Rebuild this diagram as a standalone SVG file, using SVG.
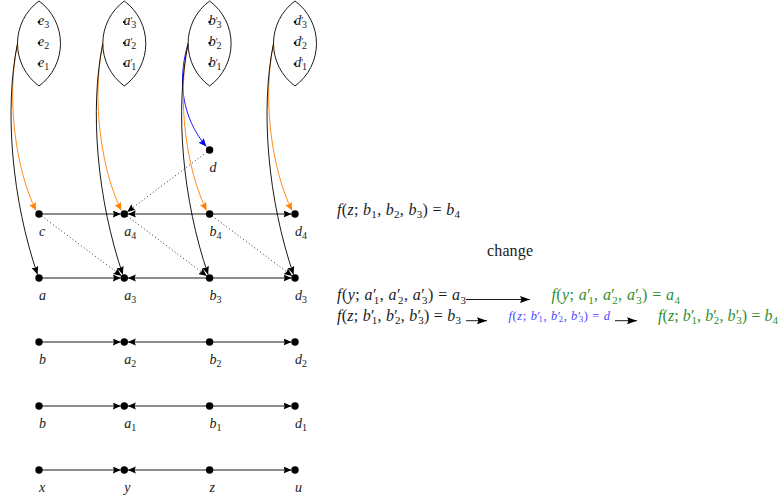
<svg xmlns="http://www.w3.org/2000/svg" width="782" height="498" viewBox="0 0 782 498">
<style>
.lens{fill:none;stroke:#000;stroke-width:0.9}
.dot{fill:#000}
.sd{fill:#000}
.e{stroke:#000;stroke-width:0.9;fill:none}
.dt{stroke:#000;stroke-width:0.9;fill:none;stroke-dasharray:0.9 2.6}
.co{stroke:#ff8000;stroke-width:0.9;fill:none}
.cb{stroke:#0000ff;stroke-width:0.9;fill:none}
.ck{stroke:#000;stroke-width:0.9;fill:none}
.lb{font-family:'Liberation Serif','Times New Roman',serif;font-size:14px;font-style:italic;fill:#1a1a1a}
.ls{font-size:10px;font-style:normal}
.f{font-family:'Liberation Serif','Times New Roman',serif;font-size:16px;fill:#1a1a1a}
.i{font-style:italic}
.s{font-size:11px}
.g{fill:#2f8f2f}
.bl{fill:#4646ff;font-size:12.5px}
.bl .s{font-size:8.5px}
</style>
<defs>
<marker id="ah" markerUnits="userSpaceOnUse" markerWidth="10" markerHeight="8" refX="8" refY="3.5" orient="auto"><path d="M0,0 L8,3.5 L0,7 L1.2,3.5 Z" fill="#000"/></marker>
<marker id="aho" markerUnits="userSpaceOnUse" markerWidth="10" markerHeight="8" refX="8" refY="3.5" orient="auto"><path d="M0,0 L8,3.5 L0,7 L1.2,3.5 Z" fill="#ff8000"/></marker>
<marker id="ahb" markerUnits="userSpaceOnUse" markerWidth="10" markerHeight="8" refX="8" refY="3.5" orient="auto"><path d="M0,0 L8,3.5 L0,7 L1.2,3.5 Z" fill="#0000ff"/></marker>
<marker id="ahr" markerUnits="userSpaceOnUse" markerWidth="12" markerHeight="8" refX="10" refY="3.5" orient="auto"><path d="M0,0 L10,3.5 L0,7 L1.5,3.5 Z" fill="#000"/></marker>
</defs>

<!-- lenses -->
<g id="lens-e">
<path class="lens" d="M39,1 A52.76,52.76 0 0 0 39,86 A52.76,52.76 0 0 0 39,1 Z"/>
<circle class="sd" cx="39" cy="22" r="1.3"/><circle class="sd" cx="39" cy="43" r="1.3"/><circle class="sd" cx="39" cy="64" r="1.3"/>
<text class="lb" x="38" y="25">e<tspan class="ls" dy="3">3</tspan></text>
<text class="lb" x="38" y="46">e<tspan class="ls" dy="3">2</tspan></text>
<text class="lb" x="38" y="67">e<tspan class="ls" dy="3">1</tspan></text>
</g>
<g id="lens-a">
<path class="lens" d="M124.3,1 A52.76,52.76 0 0 0 124.3,86 A52.76,52.76 0 0 0 124.3,1 Z"/>
<circle class="sd" cx="124.3" cy="22" r="1.3"/><circle class="sd" cx="124.3" cy="43" r="1.3"/><circle class="sd" cx="124.3" cy="64" r="1.3"/>
<text class="lb" x="123.5" y="25">a<tspan class="ls" dy="-1">′</tspan><tspan class="ls" dx="-1.5" dy="4">3</tspan></text>
<text class="lb" x="123.5" y="46">a<tspan class="ls" dy="-1">′</tspan><tspan class="ls" dx="-1.5" dy="4">2</tspan></text>
<text class="lb" x="123.5" y="67">a<tspan class="ls" dy="-1">′</tspan><tspan class="ls" dx="-1.5" dy="4">1</tspan></text>
</g>
<g id="lens-b">
<path class="lens" d="M209.6,1 A52.76,52.76 0 0 0 209.6,86 A52.76,52.76 0 0 0 209.6,1 Z"/>
<circle class="sd" cx="209.6" cy="22" r="1.3"/><circle class="sd" cx="209.6" cy="43" r="1.3"/><circle class="sd" cx="209.6" cy="64" r="1.3"/>
<text class="lb" x="208.8" y="25">b<tspan class="ls" dy="-1">′</tspan><tspan class="ls" dx="-1.5" dy="4">3</tspan></text>
<text class="lb" x="208.8" y="46">b<tspan class="ls" dy="-1">′</tspan><tspan class="ls" dx="-1.5" dy="4">2</tspan></text>
<text class="lb" x="208.8" y="67">b<tspan class="ls" dy="-1">′</tspan><tspan class="ls" dx="-1.5" dy="4">1</tspan></text>
</g>
<g id="lens-d">
<path class="lens" d="M295,1 A52.76,52.76 0 0 0 295,86 A52.76,52.76 0 0 0 295,1 Z"/>
<circle class="sd" cx="295" cy="22" r="1.3"/><circle class="sd" cx="295" cy="43" r="1.3"/><circle class="sd" cx="295" cy="64" r="1.3"/>
<text class="lb" x="294.2" y="25">d<tspan class="ls" dy="-1">′</tspan><tspan class="ls" dx="-1.5" dy="4">3</tspan></text>
<text class="lb" x="294.2" y="46">d<tspan class="ls" dy="-1">′</tspan><tspan class="ls" dx="-1.5" dy="4">2</tspan></text>
<text class="lb" x="294.2" y="67">d<tspan class="ls" dy="-1">′</tspan><tspan class="ls" dx="-1.5" dy="4">1</tspan></text>
</g>

<!-- connectors -->
<g id="connectors">
<path class="co" marker-end="url(#aho)" d="M17.5,43.5 C6,100 16,170 36,210.5"/>
<path class="ck" marker-end="url(#ah)" d="M17.5,43.5 C4,110 12,200 37.5,274.5"/>
<path class="co" marker-end="url(#aho)" d="M102.8,43.5 C91.3,100 101.3,170 121.3,210.5"/>
<path class="ck" marker-end="url(#ah)" d="M102.8,43.5 C89.3,110 97.3,200 122.8,274.5"/>
<path class="cb" marker-end="url(#ahb)" d="M188.1,43.5 C177,80 182,118 206.3,146.5"/>
<path class="co" marker-end="url(#aho)" d="M188.1,43.5 C176.6,100 186.6,170 206.6,210.5"/>
<path class="ck" marker-end="url(#ah)" d="M188.1,43.5 C174.6,110 182.6,200 208.1,274.5"/>
<path class="co" marker-end="url(#aho)" d="M273.5,43.5 C262,100 272,170 292,210.5"/>
<path class="ck" marker-end="url(#ah)" d="M273.5,43.5 C260,110 268,200 293.5,274.5"/>
<line class="dt" marker-end="url(#ah)" x1="209.6" y1="150" x2="127.1" y2="211.9"/>
<line class="dt" marker-end="url(#ah)" x1="39" y1="214" x2="121.5" y2="275.9"/>
<line class="dt" marker-end="url(#ah)" x1="124.3" y1="214" x2="206.8" y2="275.9"/>
<line class="dt" marker-end="url(#ah)" x1="209.6" y1="214" x2="292.2" y2="275.9"/>
<line class="e" marker-end="url(#ah)" x1="39" y1="214" x2="120.8" y2="214"/>
<line class="e" marker-end="url(#ah)" x1="209.6" y1="214" x2="127.8" y2="214"/>
<line class="e" marker-end="url(#ah)" x1="209.6" y1="214" x2="291.5" y2="214"/>
<line class="e" marker-end="url(#ah)" x1="39" y1="278" x2="120.8" y2="278"/>
<line class="e" marker-end="url(#ah)" x1="209.6" y1="278" x2="127.8" y2="278"/>
<line class="e" marker-end="url(#ah)" x1="209.6" y1="278" x2="291.5" y2="278"/>
<line class="e" marker-end="url(#ah)" x1="39" y1="342" x2="120.8" y2="342"/>
<line class="e" marker-end="url(#ah)" x1="209.6" y1="342" x2="127.8" y2="342"/>
<line class="e" marker-end="url(#ah)" x1="209.6" y1="342" x2="291.5" y2="342"/>
<line class="e" marker-end="url(#ah)" x1="39" y1="406" x2="120.8" y2="406"/>
<line class="e" marker-end="url(#ah)" x1="209.6" y1="406" x2="127.8" y2="406"/>
<line class="e" marker-end="url(#ah)" x1="209.6" y1="406" x2="291.5" y2="406"/>
<line class="e" marker-end="url(#ah)" x1="39" y1="470" x2="120.8" y2="470"/>
<line class="e" marker-end="url(#ah)" x1="209.6" y1="470" x2="127.8" y2="470"/>
<line class="e" marker-end="url(#ah)" x1="209.6" y1="470" x2="291.5" y2="470"/>
<line class="e" marker-end="url(#ahr)" x1="466" y1="299.5" x2="530" y2="299.5"/>
<line class="e" marker-end="url(#ahr)" x1="466" y1="320.7" x2="487" y2="320.7"/>
<line class="e" marker-end="url(#ahr)" x1="615" y1="320.7" x2="637" y2="320.7"/>
</g>

<!-- nodes -->
<g id="n-d"><circle class="dot" cx="209.6" cy="150" r="3.7"/><text class="lb" x="209.6" y="172">d</text></g>

<g id="n-c"><circle class="dot" cx="39" cy="214" r="3.7"/><text class="lb" x="39" y="236">c</text></g>
<g id="n-a4"><circle class="dot" cx="124.3" cy="214" r="3.7"/><text class="lb" x="124.3" y="236">a<tspan class="ls" dy="3">4</tspan></text></g>
<g id="n-b4"><circle class="dot" cx="209.6" cy="214" r="3.7"/><text class="lb" x="209.6" y="236">b<tspan class="ls" dy="3">4</tspan></text></g>
<g id="n-d4"><circle class="dot" cx="295" cy="214" r="3.7"/><text class="lb" x="295" y="236">d<tspan class="ls" dy="3">4</tspan></text></g>

<g id="n-a"><circle class="dot" cx="39" cy="278" r="3.7"/><text class="lb" x="39" y="300">a</text></g>
<g id="n-a3"><circle class="dot" cx="124.3" cy="278" r="3.7"/><text class="lb" x="124.3" y="300">a<tspan class="ls" dy="3">3</tspan></text></g>
<g id="n-b3"><circle class="dot" cx="209.6" cy="278" r="3.7"/><text class="lb" x="209.6" y="300">b<tspan class="ls" dy="3">3</tspan></text></g>
<g id="n-d3"><circle class="dot" cx="295" cy="278" r="3.7"/><text class="lb" x="295" y="300">d<tspan class="ls" dy="3">3</tspan></text></g>

<g id="n-b-r3"><circle class="dot" cx="39" cy="342" r="3.7"/><text class="lb" x="39" y="364">b</text></g>
<g id="n-a2"><circle class="dot" cx="124.3" cy="342" r="3.7"/><text class="lb" x="124.3" y="364">a<tspan class="ls" dy="3">2</tspan></text></g>
<g id="n-b2"><circle class="dot" cx="209.6" cy="342" r="3.7"/><text class="lb" x="209.6" y="364">b<tspan class="ls" dy="3">2</tspan></text></g>
<g id="n-d2"><circle class="dot" cx="295" cy="342" r="3.7"/><text class="lb" x="295" y="364">d<tspan class="ls" dy="3">2</tspan></text></g>

<g id="n-b-r4"><circle class="dot" cx="39" cy="406" r="3.7"/><text class="lb" x="39" y="428">b</text></g>
<g id="n-a1"><circle class="dot" cx="124.3" cy="406" r="3.7"/><text class="lb" x="124.3" y="428">a<tspan class="ls" dy="3">1</tspan></text></g>
<g id="n-b1"><circle class="dot" cx="209.6" cy="406" r="3.7"/><text class="lb" x="209.6" y="428">b<tspan class="ls" dy="3">1</tspan></text></g>
<g id="n-d1"><circle class="dot" cx="295" cy="406" r="3.7"/><text class="lb" x="295" y="428">d<tspan class="ls" dy="3">1</tspan></text></g>

<g id="n-x"><circle class="dot" cx="39" cy="470" r="3.7"/><text class="lb" x="39" y="492">x</text></g>
<g id="n-y"><circle class="dot" cx="124.3" cy="470" r="3.7"/><text class="lb" x="124.3" y="492">y</text></g>
<g id="n-z"><circle class="dot" cx="209.6" cy="470" r="3.7"/><text class="lb" x="209.6" y="492">z</text></g>
<g id="n-u"><circle class="dot" cx="295" cy="470" r="3.7"/><text class="lb" x="295" y="492">u</text></g>

<!-- right side formulas -->
<g id="formulas">
<text class="f" x="337" y="214.5" textLength="123" lengthAdjust="spacing"><tspan class="i">f</tspan>(<tspan class="i">z</tspan>; <tspan class="i">b</tspan><tspan class="s" dy="3.5">1</tspan><tspan dy="-3.5">, </tspan><tspan class="i">b</tspan><tspan class="s" dy="3.5">2</tspan><tspan dy="-3.5">, </tspan><tspan class="i">b</tspan><tspan class="s" dy="3.5">3</tspan><tspan dy="-3.5">) = </tspan><tspan class="i">b</tspan><tspan class="s" dy="3.5">4</tspan></text>
<text class="f" x="487" y="256" textLength="46" lengthAdjust="spacing">change</text>
<text class="f" x="337" y="300" textLength="129" lengthAdjust="spacing"><tspan class="i">f</tspan>(<tspan class="i">y</tspan>; <tspan class="i">a</tspan>′<tspan class="s" dx="-3" dy="3.5">1</tspan><tspan dy="-3.5">, </tspan><tspan class="i">a</tspan>′<tspan class="s" dx="-3" dy="3.5">2</tspan><tspan dy="-3.5">, </tspan><tspan class="i">a</tspan>′<tspan class="s" dx="-3" dy="3.5">3</tspan><tspan dy="-3.5">) = </tspan><tspan class="i">a</tspan><tspan class="s" dy="3.5">3</tspan></text>
<text class="f" x="337" y="320.5" textLength="124" lengthAdjust="spacing"><tspan class="i">f</tspan>(<tspan class="i">z</tspan>; <tspan class="i">b</tspan>′<tspan class="s" dx="-3" dy="3.5">1</tspan><tspan dy="-3.5">, </tspan><tspan class="i">b</tspan>′<tspan class="s" dx="-3" dy="3.5">2</tspan><tspan dy="-3.5">, </tspan><tspan class="i">b</tspan>′<tspan class="s" dx="-3" dy="3.5">3</tspan><tspan dy="-3.5">) = </tspan><tspan class="i">b</tspan><tspan class="s" dy="3.5">3</tspan></text>
<text class="f g" x="551.5" y="300" textLength="128.5" lengthAdjust="spacing"><tspan class="i">f</tspan>(<tspan class="i">y</tspan>; <tspan class="i">a</tspan>′<tspan class="s" dx="-3" dy="3.5">1</tspan><tspan dy="-3.5">, </tspan><tspan class="i">a</tspan>′<tspan class="s" dx="-3" dy="3.5">2</tspan><tspan dy="-3.5">, </tspan><tspan class="i">a</tspan>′<tspan class="s" dx="-3" dy="3.5">3</tspan><tspan dy="-3.5">) = </tspan><tspan class="i">a</tspan><tspan class="s" dy="3.5">4</tspan></text>
<text class="f bl" x="508.5" y="319.5" textLength="101.5" lengthAdjust="spacing"><tspan class="i">f</tspan>(<tspan class="i">z</tspan>; <tspan class="i">b</tspan>′<tspan class="s" dx="-2.3" dy="2.8">1</tspan><tspan dy="-2.8">, </tspan><tspan class="i">b</tspan>′<tspan class="s" dx="-2.3" dy="2.8">2</tspan><tspan dy="-2.8">, </tspan><tspan class="i">b</tspan>′<tspan class="s" dx="-2.3" dy="2.8">3</tspan><tspan dy="-2.8">) = </tspan><tspan class="i">d</tspan></text>
<text class="f g" x="658" y="320.5" textLength="120" lengthAdjust="spacing"><tspan class="i">f</tspan>(<tspan class="i">z</tspan>; <tspan class="i">b</tspan>′<tspan class="s" dx="-3" dy="3.5">1</tspan><tspan dy="-3.5">, </tspan><tspan class="i">b</tspan>′<tspan class="s" dx="-3" dy="3.5">2</tspan><tspan dy="-3.5">, </tspan><tspan class="i">b</tspan>′<tspan class="s" dx="-3" dy="3.5">3</tspan><tspan dy="-3.5">) = </tspan><tspan class="i">b</tspan><tspan class="s" dy="3.5">4</tspan></text>
</g>
</svg>
